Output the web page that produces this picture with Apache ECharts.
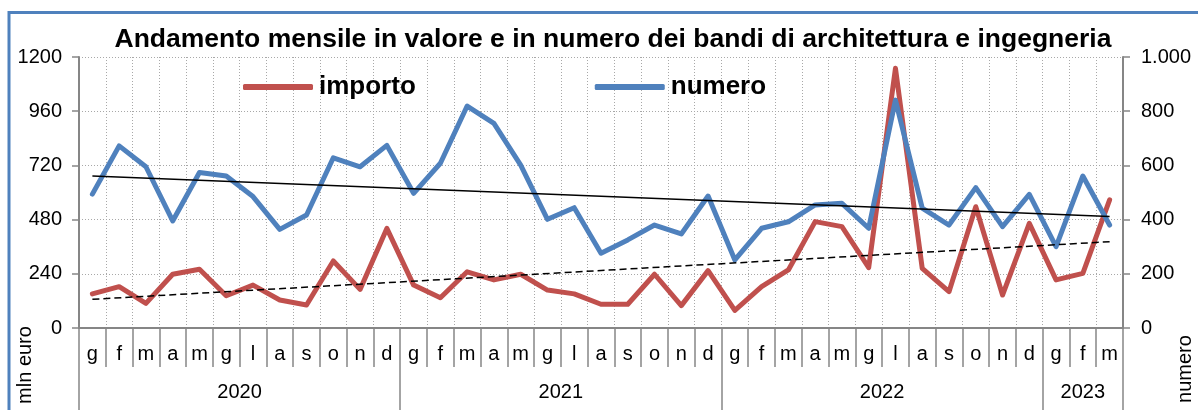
<!DOCTYPE html>
<html>
<head>
<meta charset="utf-8">
<script src="https://cdn.jsdelivr.net/npm/echarts@6/dist/echarts.min.js"></script>
<style>
html,body{margin:0;padding:0;background:#fff;}
#c{width:1198px;height:410px;}
</style>
</head>
<body>
<div id="c"></div>
<script>
// ---- data ----
var monthLetters = ['g','f','m','a','m','g','l','a','s','o','n','d'];
var years = ['2020','2021','2022','2023'];
var monthsPerYear = [12, 12, 12, 3];
var importo = [151,183,109,238,260,143,190,124,102,297,171,441,
               190,134,249,213,238,168,151,105,105,238,99,254,
               78,183,257,471,449,267,1150,264,161,537,146,463,
               213,242,567];
var numero = [494,672,595,395,574,561,485,364,417,628,595,674,
              497,608,819,755,601,401,444,276,325,380,347,487,
              251,368,392,454,460,368,841,442,380,518,374,493,
              300,561,380];
// trend lines (start / end values)
var trendNumero = [561, 411];
var trendImporto = [127, 382];
var leftTicks = [0,240,480,720,960,1200];
var leftTickLabels = ['0','240','480','720','960','1200'];
var rightTicks = [0,200,400,600,800,1000];
var rightTickLabels = ['0','200','400','600','800','1.000'];

// ---- build categories ----
var categories = [];
var yearCenters = [], yearBounds = [0];
var pos = 0;
years.forEach(function(y, yi){
  for (var k = 0; k < monthsPerYear[yi]; k++) categories.push(y + ' ' + monthLetters[k]);
  yearCenters.push(pos + monthsPerYear[yi] / 2);
  pos += monthsPerYear[yi];
  yearBounds.push(pos);
});
var N = categories.length;
function endpoints(a){
  var d = new Array(N).fill(null);
  d[0] = a[0]; d[N-1] = a[1];
  return d;
}

var FONT = 'Liberation Sans';
var axisGray = '#868686';
var gridGray = '#a8a8a8';

var chart = echarts.init(document.getElementById('c'), null, {renderer:'canvas'});
chart.setOption({
  animation:false,
  backgroundColor:'#fff',
  textStyle:{fontFamily:FONT},
  title:{
    text:'Andamento mensile in valore e in numero dei bandi di architettura e ingegneria',
    left:608, top:21, textAlign:'center',
    textStyle:{fontFamily:FONT, fontSize:26.5, fontWeight:'bold', color:'#000'}
  },
  legend:{
    data:['importo','numero'],
    left:238, top:69,
    icon:'roundRect',
    itemWidth:70, itemHeight:6,
    itemGap:179,
    textStyle:{fontFamily:FONT, fontSize:26, fontWeight:'bold', color:'#000', padding:[0,0,0,1]}
  },
  grid:{left:79, right:75, top:57, bottom:82},
  xAxis:[{
    type:'category',
    data:categories,
    boundaryGap:true,
    position:'bottom',
    axisLine:{show:true, lineStyle:{color:axisGray, width:2}},
    axisTick:{show:true, interval:0, length:39, lineStyle:{color:axisGray, width:1.5}},
    axisLabel:{interval:0, margin:16, fontSize:20, color:'#000', fontFamily:FONT,
      formatter:function(v){ return v.split(' ')[1]; }},
    splitLine:{show:true, interval:0, lineStyle:{color:gridGray, type:[1,2], width:1}}
  },{
    type:'value',
    min:0, max:N,
    position:'bottom',
    axisLine:{show:false},
    axisTick:{show:true, customValues:yearBounds, length:85, lineStyle:{color:axisGray, width:1.5}},
    axisLabel:{show:true, customValues:yearCenters, margin:54, fontSize:20, color:'#000', fontFamily:FONT,
      formatter:function(v){ var i = yearCenters.indexOf(v); return i >= 0 ? years[i] : ''; }},
    splitLine:{show:false}
  }],
  yAxis:[{
    type:'value',
    min:leftTicks[0], max:leftTicks[leftTicks.length-1], interval:leftTicks[1]-leftTicks[0],
    position:'left',
    axisLine:{show:true, lineStyle:{color:axisGray, width:2}},
    axisTick:{show:true, length:7, lineStyle:{color:axisGray, width:1.5}},
    axisLabel:{margin:17, fontSize:20, color:'#000', fontFamily:FONT,
      formatter:function(v){ var i = leftTicks.indexOf(v); return i >= 0 ? leftTickLabels[i] : String(v); }},
    splitLine:{show:true, lineStyle:{color:gridGray, type:[1,2], width:1}}
  },{
    type:'value',
    min:rightTicks[0], max:rightTicks[rightTicks.length-1], interval:rightTicks[1]-rightTicks[0],
    position:'right',
    axisLine:{show:true, lineStyle:{color:axisGray, width:2}},
    axisTick:{show:true, length:7, lineStyle:{color:axisGray, width:1.5}},
    axisLabel:{margin:18, fontSize:20, color:'#000', fontFamily:FONT,
      formatter:function(v){ var i = rightTicks.indexOf(v); return i >= 0 ? rightTickLabels[i] : String(v); }},
    splitLine:{show:false}
  }],
  series:[{
    name:'importo', type:'line', xAxisIndex:0, yAxisIndex:0,
    data:importo, symbol:'none', z:2,
    itemStyle:{color:'#c0504d'},
    lineStyle:{color:'#c0504d', width:5, join:'round', cap:'round'}
  },{
    name:'numero', type:'line', xAxisIndex:0, yAxisIndex:1,
    data:numero, symbol:'none', z:3,
    itemStyle:{color:'#4f81bd'},
    lineStyle:{color:'#4f81bd', width:5, join:'round', cap:'round'}
  },{
    name:'trend numero', type:'line', xAxisIndex:0, yAxisIndex:1,
    data:endpoints(trendNumero), connectNulls:true, symbol:'none', z:4, silent:true,
    lineStyle:{color:'#000', width:1.5}
  },{
    name:'trend importo', type:'line', xAxisIndex:0, yAxisIndex:0,
    data:endpoints(trendImporto), connectNulls:true, symbol:'none', z:4, silent:true,
    lineStyle:{color:'#000', width:1.5, type:[7,4]}
  }],
  graphic:[{
    type:'rect', shape:{x:9, y:12.5, width:1400, height:600},
    style:{fill:null, stroke:'#4f81bd', lineWidth:3}, silent:true, z:-1
  },{
    type:'text', x:25, y:365, rotation:Math.PI/2,
    style:{text:'mln euro', font:'20px "Liberation Sans"', fill:'#000', align:'center', verticalAlign:'middle'}
  },{
    type:'text', x:1185, y:369, rotation:Math.PI/2,
    style:{text:'numero', font:'20px "Liberation Sans"', fill:'#000', align:'center', verticalAlign:'middle'}
  }]
});
</script>
</body>
</html>
